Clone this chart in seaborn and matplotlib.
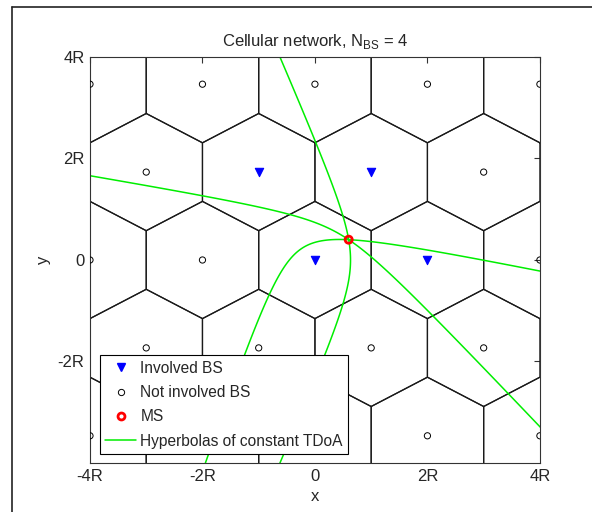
import numpy as np
import pandas as pd
import seaborn as sns
import matplotlib
matplotlib.use("Agg")
import matplotlib.pyplot as plt
from matplotlib.lines import Line2D

# base station lattice (units of R), one list of x positions per row
row_y = [3.464, 1.732, 0.0, -1.732, -3.464]
row_x = [[-4, -2, 0, 2, 4],
         [-3, -1, 1, 3],
         [-4, -2, 0, 2, 4],
         [-3, -1, 1, 3],
         [-4, -2, 0, 2, 4]]

# BS used for the fix, first one is the reference
inv_x = [0, 2, -1, 1]
inv_y = [0.0, 0.0, 1.732, 1.732]

# mobile station
ms_x = [0.6]
ms_y = [0.4]

cell_r = 1.1547  # hexagon circumradius
x_ticks = [-4, -2, 0, 2, 4]
x_ticklabels = ["-4R", "-2R", "0", "2R", "4R"]
y_ticks = [-2, 0, 2, 4]
y_ticklabels = ["-2R", "0", "2R", "4R"]

# table of all BS
rows = []
for yy, xs in zip(row_y, row_x):
    for xx in xs:
        involved = any(abs(xx - a) < 1e-6 and abs(yy - b) < 1e-3 for a, b in zip(inv_x, inv_y))
        rows.append({"x": xx, "y": yy, "involved": involved})
bs = pd.DataFrame(rows)

sns.set_style("white")
plt.rcParams["font.family"] = ["Liberation Sans", "DejaVu Sans"]
plt.rcParams["mathtext.fontset"] = "custom"
plt.rcParams["mathtext.rm"] = "Liberation Sans"

fig = plt.figure(figsize=(5.92, 5.12), dpi=100)
ax = fig.add_axes([0.152, 0.0957, 0.760, 0.793])

# hexagonal cells
ang = np.deg2rad([30, 90, 150, 210, 270, 330, 30])
for cx, cy in zip(bs["x"], bs["y"]):
    ax.plot(cx + cell_r * np.cos(ang), cy + cell_r * np.sin(ang),
            color="#1a1a1a", lw=0.9, zorder=1)

# hyperbolas: locus of constant range difference to the reference BS
gx, gy = np.meshgrid(np.linspace(-4.2, 4.2, 1201), np.linspace(-4.2, 4.2, 1201))
d_ref = np.hypot(gx - inv_x[0], gy - inv_y[0])
ms_ref = np.hypot(ms_x[0] - inv_x[0], ms_y[0] - inv_y[0])
green = "#00ee00"
for bx, by in zip(inv_x[1:], inv_y[1:]):
    field = d_ref - np.hypot(gx - bx, gy - by)
    level = ms_ref - np.hypot(ms_x[0] - bx, ms_y[0] - by)
    ax.contour(gx, gy, field, levels=[level], colors=green, linewidths=1.1,
               linestyles="solid", zorder=2)

# base stations and mobile
sns.scatterplot(data=bs[~bs["involved"]], x="x", y="y", ax=ax, marker="o", s=20,
                facecolor="none", edgecolor="black", linewidth=0.7, zorder=3)
sns.scatterplot(data=bs[bs["involved"]], x="x", y="y", ax=ax, marker="v", s=36,
                color="blue", edgecolor="blue", linewidth=0.8, zorder=4)
sns.scatterplot(x=ms_x, y=ms_y, ax=ax, marker="o", s=26, facecolor="none",
                edgecolor="red", linewidth=2.0, zorder=5)

ax.set_xlim(-4, 4)
ax.set_ylim(-4, 4)
ax.set_xticks(x_ticks)
ax.set_xticklabels(x_ticklabels)
ax.set_yticks(y_ticks)
ax.set_yticklabels(y_ticklabels)
ax.tick_params(direction="in", length=4, width=0.8, labelsize=12, color="#333333",
               top=True, right=True, pad=4)
for sp in ax.spines.values():
    sp.set_color("#333333")
    sp.set_linewidth(0.8)
ax.set_xlabel("x", fontsize=12, labelpad=4)
ax.set_ylabel("y", fontsize=12, labelpad=5)
ax.set_title(r"Cellular network, N$_\mathregular{BS}$ = 4", fontsize=12, pad=8)

handles = [
    Line2D([], [], ls="none", marker="v", color="blue", ms=6),
    Line2D([], [], ls="none", marker="o", mfc="none", mec="black", ms=4.5, mew=0.7),
    Line2D([], [], ls="none", marker="o", mfc="none", mec="red", ms=5, mew=2.0),
    Line2D([], [], color=green, lw=1.1),
]
labels = ["Involved BS", "Not involved BS", "MS", "Hyperbolas of constant TDoA"]
leg = ax.legend(handles, labels, loc="lower left", bbox_to_anchor=(0.022, 0.022),
                borderaxespad=0, fontsize=11.2, fancybox=False, framealpha=1,
                edgecolor="black", handlelength=2.0, handletextpad=0.25,
                labelspacing=0.6, borderpad=0.35)
leg.get_frame().set_linewidth(0.8)

# figure border (top and left edges)
fig.add_artist(Line2D([12 / 592, 12 / 592], [0, 1 - 7 / 512], transform=fig.transFigure,
                      color="#222222", lw=1.2))
fig.add_artist(Line2D([12 / 592, 1], [1 - 7 / 512, 1 - 7 / 512], transform=fig.transFigure,
                      color="#222222", lw=1.2))

fig.savefig("out.png", dpi=100)
